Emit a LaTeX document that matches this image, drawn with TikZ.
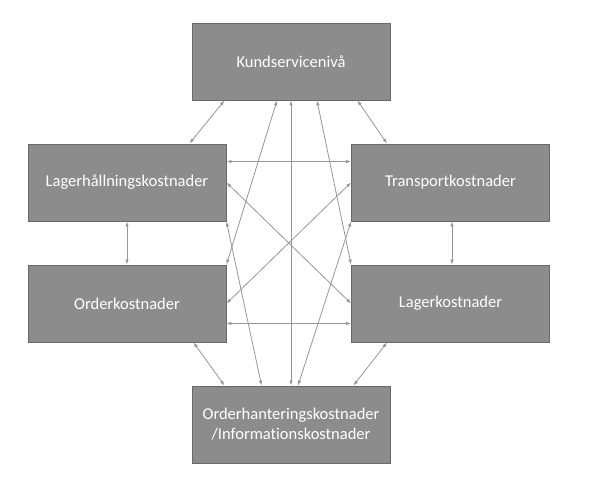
\documentclass[tikz,border=0pt]{standalone}
\usepackage{fontspec}
\setmainfont{Carlito}[Ligatures=NoCommon]
\usetikzlibrary{positioning,calc,arrows.meta}
\definecolor{boxgray}{RGB}{140,140,140}
\definecolor{edgegray}{RGB}{105,105,105}
\definecolor{linegray}{RGB}{150,150,150}
\tikzset{
  kost/.style={draw=edgegray,fill=boxgray,text=white,line width=0.9pt,
    minimum width=198pt,minimum height=77pt,inner sep=0pt,align=center,
    font=\fontsize{16.5}{20}\selectfont},
  link/.style={linegray,line width=0.8pt,
    {Latex[length=5pt,width=3.5pt]}-{Latex[length=5pt,width=3.5pt]}}
}

\begin{document}
\begin{tikzpicture}[x=1pt,y=-1pt]
\useasboundingbox (0,0) rectangle (590,481);
% Boxes
\node[kost] (kund) at (291,61.5) {Kundservicenivå};
\node[kost] (lagerh) at (127,182.5) {Lagerhållningskostnader};
\node[kost] (transport) at (450.5,182.5) {Transportkostnader};
\node[kost] (order) at (127,303.5) {Orderkostnader};
\node[kost] (lager) at (450.5,303.5) {Lagerkostnader};
\node[kost] (info) at (291,424.5) {Orderhanteringskostnader\\/Informationskostnader};
%% Links from the top box
\draw[link] ($(kund.south west)+(33,0)$) -- ($(lagerh.north east)+(-37,0)$);
\draw[link] ($(kund.south east)+(-33,0)$) -- ($(transport.north west)+(36,0)$);
\draw[link] ($(kund.south)+(-14,0)$) -- (order.north east);
\draw[link] (kund.south) -- (info.north);
\draw[link] ($(kund.south)+(26,0)$) -- (lager.north west);
%% Links between the side boxes
\draw[link] ($(lagerh.north east)+(0,18)$) -- ($(transport.north west)+(0,18)$);
\draw[link] ($(order.south east)+(0,-19)$) -- ($(lager.south west)+(0,-19)$);
\draw[link] (lagerh.south) -- (order.north);
\draw[link] ($(transport.south)+(1.5,0)$) -- ($(lager.north)+(1.5,0)$);
\draw[link] (lagerh.east) -- (lager.west);
\draw[link] (transport.west) -- (order.east);
%% Links to the bottom box
\draw[link] (lagerh.south east) -- ($(info.north west)+(70,0)$);
\draw[link] (transport.south west) -- ($(info.north)+(7,0)$);
\draw[link] ($(order.south east)+(-33,0)$) -- ($(info.north west)+(33,0)$);
\draw[link] ($(lager.south west)+(36,0)$) -- ($(info.north east)+(-37,0)$);
\end{tikzpicture}
\end{document}
